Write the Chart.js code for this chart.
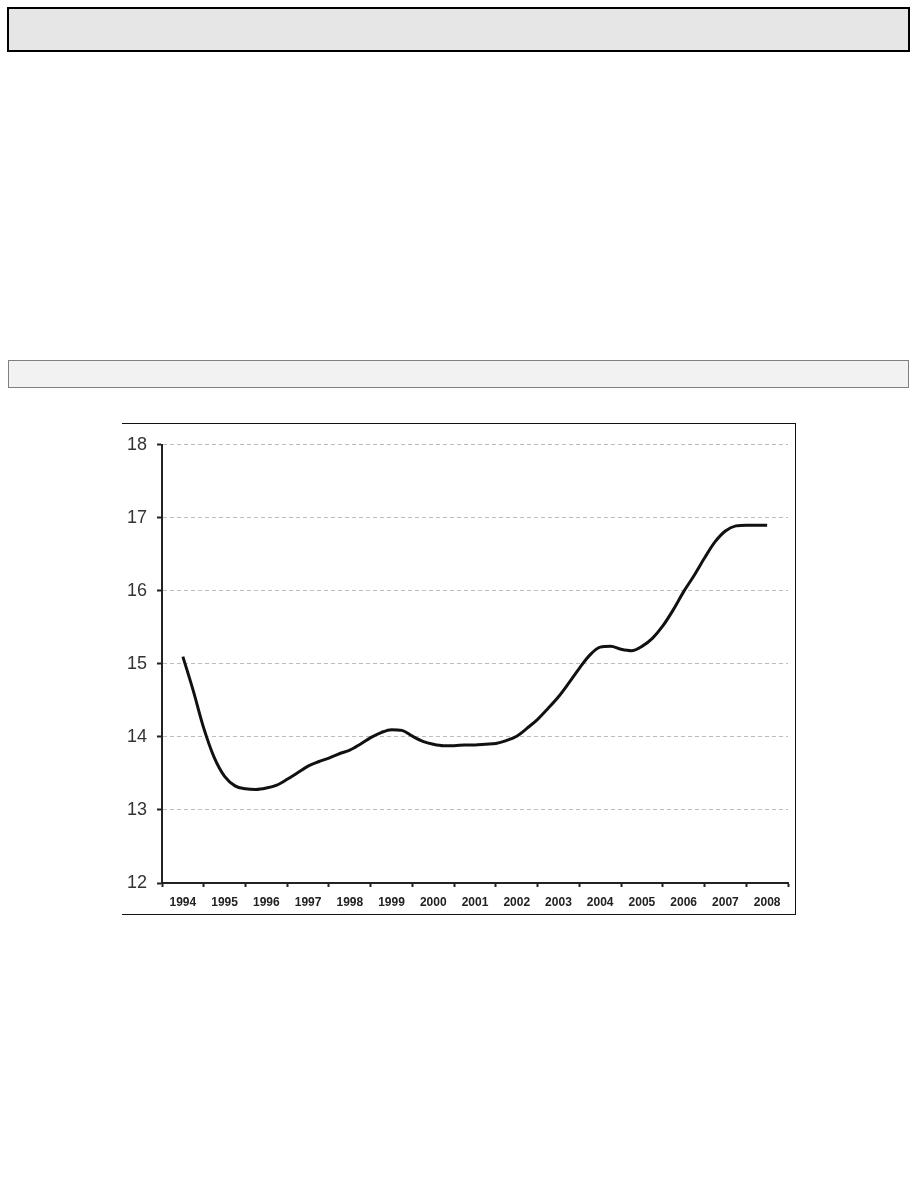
<!DOCTYPE html>
<html>
<head>
<meta charset="utf-8">
<script src="https://cdn.jsdelivr.net/npm/chart.js@4.4.0/dist/chart.umd.min.js"></script>
<style>
  body { margin: 0; background: #fff; width: 918px; height: 1188px; position: relative; }
  .box1 { position: absolute; left: 7px; top: 7px; width: 899px; height: 41px; background: #e6e6e6; border: 2px solid #000; }
  .box2 { position: absolute; left: 8px; top: 360px; width: 899px; height: 26px; background: #f2f2f2; border: 1px solid #808080; }
  .chart-frame { position: absolute; left: 122px; top: 423px; width: 673px; height: 490px; border-top: 1.5px solid #111; border-right: 1.5px solid #111; border-bottom: 1.5px solid #111; }
  .chart-wrap { position: absolute; left: 122px; top: 424px; width: 674px; height: 490px; }
</style>
</head>
<body>
<div class="box1"></div>
<div class="box2"></div>
<div class="chart-frame"></div>
<div class="chart-wrap"><canvas id="lineChart"></canvas></div>

<script>
// quarterly observations, as decimal years
const periods = [
  1994.00, 1994.25, 1994.50, 1994.75, 1995.00, 1995.25, 1995.50, 1995.75,
  1996.00, 1996.25, 1996.50, 1996.75, 1997.00, 1997.25, 1997.50, 1997.75,
  1998.00, 1998.25, 1998.50, 1998.75, 1999.00, 1999.25, 1999.50, 1999.75,
  2000.00, 2000.25, 2000.50, 2000.75, 2001.00, 2001.25, 2001.50, 2001.75,
  2002.00, 2002.25, 2002.50, 2002.75, 2003.00, 2003.25, 2003.50, 2003.75,
  2004.00, 2004.25, 2004.50, 2004.75, 2005.00, 2005.25, 2005.50, 2005.75,
  2006.00, 2006.25, 2006.50, 2006.75, 2007.00, 2007.25, 2007.50, 2007.75,
  2008.00
];
const values = [
  15.10, 14.63, 14.12, 13.72, 13.46, 13.33, 13.29, 13.28,
  13.30, 13.34, 13.42, 13.51, 13.60, 13.66, 13.71, 13.77,
  13.82, 13.90, 13.99, 14.06, 14.10, 14.09, 14.01, 13.94,
  13.90, 13.88, 13.88, 13.89, 13.89, 13.90, 13.91, 13.95,
  14.01, 14.12, 14.24, 14.39, 14.55, 14.74, 14.94, 15.12,
  15.23, 15.24, 15.20, 15.18, 15.24, 15.35, 15.52, 15.74,
  15.99, 16.21, 16.45, 16.67, 16.82, 16.89, 16.90, 16.90,
  16.90
];
const yearLabels = ["1994", "1995", "1996", "1997", "1998", "1999", "2000", "2001",
  "2002", "2003", "2004", "2005", "2006", "2007", "2008"];
const yTicks = [12, 13, 14, 15, 16, 17, 18];

const firstYear = Number(yearLabels[0]);
const lastYear = Number(yearLabels[yearLabels.length - 1]);

const ctx = document.getElementById("lineChart").getContext("2d");

new Chart(ctx, {
  type: "line",
  data: {
    datasets: [
      {
        data: periods.map((p, i) => ({ x: p, y: values[i] })),
        borderColor: "#111",
        borderWidth: 3,
        pointRadius: 0,
        tension: 0.4,
        cubicInterpolationMode: "monotone",
        fill: false,
      },
    ],
  },
  options: {
    responsive: true,
    maintainAspectRatio: false,
    animation: false,
    layout: { padding: { left: 0, right: 6, top: 19, bottom: 0 } },
    plugins: {
      legend: { display: false },
      tooltip: { enabled: false },
    },
    scales: {
      x: {
        type: "linear",
        min: firstYear - 0.5,
        max: lastYear + 0.5,
        afterBuildTicks: (scale) => {
          // year boundaries get tick marks, year centres get labels
          const ticks = [];
          for (let v = firstYear - 0.5; v <= lastYear + 0.5; v += 0.5) {
            ticks.push({ value: v });
          }
          scale.ticks = ticks;
        },
        afterFit: (scale) => {
          scale.height = 31;
        },
        ticks: {
          autoSkip: false,
          maxRotation: 0,
          padding: 8,
          color: "#222",
          font: { family: "'Liberation Sans', Arial, sans-serif", size: 12, weight: "bold" },
          callback: (value) => {
            const idx = yearLabels.indexOf(String(value));
            return idx >= 0 ? yearLabels[idx] : "";
          },
        },
        grid: {
          drawOnChartArea: false,
          drawTicks: true,
          tickLength: 4,
          tickWidth: 2,
          tickColor: (c) =>
            c.tick && !Number.isInteger(c.tick.value) ? "#222" : "rgba(0,0,0,0)",
        },
        border: { display: true, color: "#222", width: 2 },
      },
      y: {
        min: yTicks[0],
        max: yTicks[yTicks.length - 1],
        afterBuildTicks: (scale) => {
          scale.ticks = yTicks.map((v) => ({ value: v }));
        },
        afterFit: (scale) => {
          scale.width = 40;
        },
        ticks: {
          padding: 10,
          color: "#333",
          font: { family: "'Liberation Sans', Arial, sans-serif", size: 18 },
        },
        grid: {
          color: "#bdbdbd",
          lineWidth: 1,
          tickLength: 5,
          tickWidth: 2,
          tickColor: "#222",
        },
        border: { display: true, color: "#222", width: 2, dash: [4, 3] },
      },
    },
  },
});
</script>
</body>
</html>
